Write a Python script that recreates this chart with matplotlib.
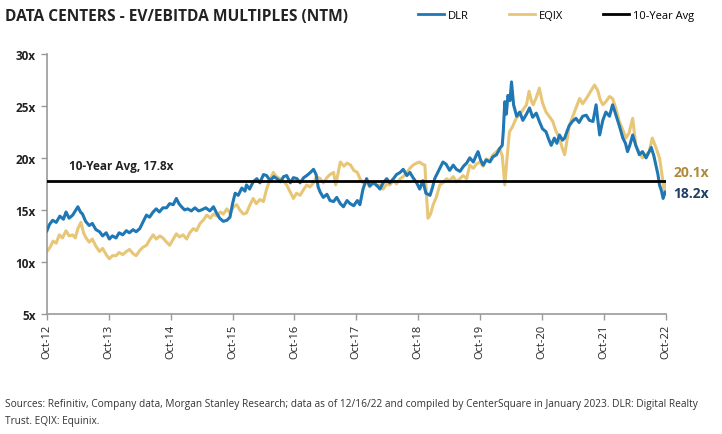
#!/usr/bin/env python3
"""Data centers EV/EBITDA multiples (NTM): DLR vs EQIX, Oct-12 to Oct-22."""

import matplotlib
matplotlib.use('Agg')
import matplotlib.pyplot as plt
from matplotlib.lines import Line2D

# palette
DLR_COLOR = "#1f77b4"
EQIX_COLOR = "#e8c677"
AVG_COLOR = "#000000"
AXIS_COLOR = "#9a9a9a"
TEXT_COLOR = "#222222"
DLR_LABEL_COLOR = "#1f3f66"
EQIX_LABEL_COLOR = "#b08a3a"

FONT = "Open Sans"

# x is months since Oct-12
tick_months = [0, 12, 24, 36, 48, 60, 72, 84, 96, 108, 120]
tick_labels = ["Oct-12", "Oct-13", "Oct-14", "Oct-15", "Oct-16", "Oct-17",
               "Oct-18", "Oct-19", "Oct-20", "Oct-21", "Oct-22"]
y_ticks = [5, 10, 15, 20, 25, 30]

ten_year_avg = 17.8
dlr_last = "18.2x"
eqix_last = "20.1x"

dlr_months = [
    0, 0.5, 1.1, 1.8, 2.5, 3.2, 3.7, 4.3, 5.0, 5.5, 6.0, 6.5, 6.9, 7.5, 8.2, 8.8,
    9.5, 10.2, 10.8, 11.5, 12.1, 12.7, 13.4, 14.0, 14.7, 15.4, 16.0, 16.7, 17.3,
    18.0, 18.6, 19.3, 19.9, 20.6, 21.2, 21.8, 22.5, 23.2, 23.8, 24.5, 25.1, 25.6,
    26.1, 26.7, 27.3, 28.0, 28.7, 29.4, 30.0, 30.8, 31.6, 32.3, 32.9, 33.5, 34.2,
    34.9, 35.5, 36.0, 36.5, 37.1, 37.8, 38.4, 38.7, 39.3, 40.0, 40.7, 41.3, 42.0,
    42.6, 43.3, 44.0, 44.6, 45.3, 45.9, 46.5, 47.2, 47.8, 48.5, 49.1, 49.8, 50.4,
    51.1, 51.7, 52.2, 52.6, 53.0, 53.6, 54.3, 54.9, 55.6, 56.2, 56.9, 57.5, 58.2,
    58.8, 59.5, 60.2, 60.7, 61.3, 62.0, 62.6, 63.3, 63.9, 64.6, 65.2, 65.9, 66.5,
    67.2, 67.8, 68.5, 69.1, 69.8, 70.4, 71.0, 71.7, 72.3, 72.9, 73.5, 74.3, 74.8,
    75.2, 75.8, 76.3, 76.8, 77.4, 78.1, 78.8, 79.4, 80.1, 80.8, 81.4, 82.0, 82.7,
    83.3, 83.6, 84.1, 84.6, 85.2, 85.9, 86.5, 87.2, 87.8, 88.3, 88.5, 88.8, 89.1,
    89.4, 89.8, 90.1, 90.5, 91.1, 91.7, 92.3, 93.0, 93.6, 94.2, 94.9, 95.5, 96.1,
    96.8, 97.3, 97.8, 98.4, 98.9, 99.4, 100.0, 100.4, 100.9, 101.3, 101.9, 102.6,
    103.2, 103.9, 104.6, 105.2, 105.9, 106.5, 106.8, 107.2, 107.8, 108.4, 109.1,
    109.7, 110.3, 111.0, 111.7, 112.2, 112.6, 113.1, 113.6, 114.2, 114.9, 115.5,
    116.2, 116.7, 117.2, 117.7, 118.1, 118.5, 118.8, 119.2, 119.5, 119.9,
]
dlr_values = [
    13.0, 13.6, 14.0, 13.8, 14.4, 14.1, 14.8, 14.2, 14.5, 14.9, 15.3, 14.8, 14.6, 13.9, 13.5, 13.7,
    13.1, 12.9, 12.5, 12.8, 12.2, 12.5, 12.3, 12.8, 12.6, 13.0, 12.8, 13.1, 12.9,
    13.2, 13.8, 14.5, 14.3, 14.8, 15.1, 14.8, 15.2, 15.2, 15.6, 15.5, 16.1, 15.6,
    15.3, 15.0, 15.1, 14.9, 15.2, 14.9, 15.0, 15.2, 14.9, 15.3, 14.7, 14.2, 13.9,
    14.0, 14.3, 15.6, 16.6, 16.4, 17.1, 16.8, 17.4, 17.0, 17.7, 18.0, 17.6, 18.4,
    18.3, 17.8, 18.2, 18.0, 17.7, 18.2, 18.3, 17.6, 18.1, 18.0, 17.6, 18.1, 18.3,
    18.6, 18.9, 18.4, 17.2, 16.7, 16.2, 16.5, 15.9, 15.8, 16.2, 15.6, 15.3, 15.9,
    15.6, 15.4, 15.9, 15.5, 17.0, 18.0, 17.3, 17.6, 17.4, 17.0, 17.6, 18.0, 17.6,
    18.0, 18.4, 18.6, 18.9, 18.3, 18.6, 18.1, 17.6, 17.0, 17.8, 16.6, 16.4, 17.2,
    18.0, 18.6, 19.1, 19.6, 19.4, 18.8, 19.3, 18.9, 18.7, 19.2, 19.5, 20.0, 19.6,
    20.3, 20.6, 19.8, 19.3, 19.8, 19.6, 20.1, 20.3, 20.9, 21.2, 22.5, 25.4, 24.2,
    26.0, 25.5, 27.3, 25.1, 24.0, 24.4, 23.6, 24.2, 24.8, 23.9, 24.3, 23.5, 22.8,
    22.5, 21.8, 21.2, 21.9, 21.4, 22.2, 21.7, 21.9, 22.6, 23.1, 23.5, 23.8,
    23.4, 24.0, 24.1, 23.6, 23.5, 25.1, 23.8, 22.2, 23.6, 24.4, 24.0,
    25.1, 24.2, 23.1, 21.9, 21.4, 20.6, 21.3, 22.2, 21.2, 20.3, 20.6,
    20.0, 20.5, 21.0, 20.2, 19.3, 18.4, 17.4, 16.8, 16.1, 16.7,
]

eqix_months = [
    0, 0.6, 1.2, 1.8, 2.4, 3.0, 3.7, 4.3, 5.0, 5.5, 6.0, 6.6, 7.1, 7.6, 8.2, 8.8,
    9.5, 10.2, 10.8, 11.5, 12.1, 12.7, 13.4, 14.0, 14.7, 15.4, 16.0, 16.7, 17.3,
    18.0, 18.6, 19.3, 19.9, 20.6, 21.2, 21.9, 22.5, 23.2, 23.8, 24.5, 25.1, 25.7,
    26.4, 27.1, 27.7, 28.4, 29.0, 29.7, 30.3, 31.0, 31.7, 32.3, 33.0, 33.6, 34.2,
    34.9, 35.5, 36.2, 36.8, 37.4, 38.1, 38.7, 39.3, 40.0, 40.6, 41.3, 42.0, 42.6,
    43.2, 43.9, 44.5, 45.2, 45.8, 46.5, 47.1, 47.8, 48.4, 49.1, 49.7, 50.4, 51.0,
    51.7, 52.3, 53.0, 53.6, 54.3, 54.9, 55.6, 56.0, 56.5, 56.9, 57.6, 58.2, 58.9,
    59.5, 60.2, 60.7, 61.3, 62.0, 62.6, 63.3, 63.9, 64.6, 65.2, 65.9, 66.5, 67.2,
    67.8, 68.5, 69.1, 69.8, 70.4, 71.0, 71.7, 72.3, 72.8, 73.3, 73.6, 73.9, 74.4,
    74.9, 75.5, 76.2, 76.8, 77.5, 78.1, 78.8, 79.4, 80.1, 80.7, 81.4, 82.0, 82.7,
    83.3, 84.0, 84.6, 85.2, 85.9, 86.5, 87.2, 87.8, 88.3, 88.8, 89.2, 89.7, 90.3,
    91.0, 91.6, 92.3, 93.0, 93.5, 94.0, 94.3, 94.9, 95.5, 96.1, 96.8, 97.4, 98.1,
    98.7, 99.4, 99.9, 100.4, 100.9, 101.3, 102.0, 102.6, 103.3, 103.9, 104.6,
    105.2, 105.7, 106.2, 106.8, 107.3, 107.8, 108.4, 109.1, 109.7, 110.3, 111.0,
    111.6, 112.3, 112.9, 113.6, 114.2, 114.8, 115.5, 116.2, 116.8, 117.4, 118.1,
    118.8, 119.4, 119.7, 120.0,
]
eqix_values = [
    11.0, 11.4, 12.0, 11.8, 12.6, 12.3, 13.0, 12.5, 12.6, 12.3, 13.2, 13.8, 12.8, 12.3, 11.9, 12.2,
    11.5, 11.0, 11.3, 10.7, 10.3, 10.6, 10.6, 10.9, 10.7, 11.0, 11.2, 10.8, 10.6,
    11.1, 11.4, 11.6, 12.1, 12.6, 12.2, 12.5, 12.3, 11.9, 11.6, 12.2, 12.7, 12.4,
    12.6, 12.2, 12.8, 13.2, 13.0, 13.7, 14.0, 14.5, 14.2, 14.6, 14.4, 14.8, 14.6,
    15.1, 14.7, 15.3, 15.5, 15.0, 14.6, 14.7, 15.4, 16.1, 15.6, 16.0, 15.8, 17.0,
    17.8, 18.6, 18.2, 18.0, 17.8, 17.4, 16.8, 16.1, 16.6, 16.4, 16.9, 17.4, 17.2,
    17.6, 18.2, 18.0, 17.6, 18.1, 18.4, 18.6, 17.4, 18.6, 19.6, 19.2, 19.5, 19.3,
    18.8, 18.6, 18.0, 17.6, 17.7, 17.2, 17.7, 17.3, 17.4, 17.0, 17.5, 17.4, 17.8,
    17.5, 18.0, 18.2, 18.6, 19.0, 19.3, 19.5, 19.6, 19.4, 19.3, 16.5, 14.2, 14.6,
    15.5, 16.2, 17.4, 17.6, 18.0, 17.8, 18.2, 17.7, 18.0, 18.3, 18.0, 19.3, 19.0,
    19.4, 19.6, 19.2, 19.9, 19.7, 20.3, 20.6, 20.9, 20.2, 17.4, 19.8, 22.5, 23.0,
    23.8, 24.1, 24.6, 25.1, 26.4, 25.4, 25.1, 25.8, 26.7, 25.3, 24.4, 24.0, 23.5,
    22.6, 21.9, 21.0, 20.3, 21.8, 23.1, 24.0, 24.8, 25.7, 25.2, 25.7,
    26.2, 26.6, 27.0, 26.5, 25.6, 25.1, 25.4, 25.9, 25.7, 24.8, 23.5,
    22.8, 21.9, 22.4, 23.8, 21.2, 20.6, 20.0, 20.3, 20.6, 21.9, 21.0,
    20.0, 18.0, 16.7, 17.5,
]

SOURCE = ("Sources: Refinitiv, Company data, Morgan Stanley Research; data as of 12/16/22 and "
          "compiled by CenterSquare in January 2023. DLR: Digital Realty\nTrust. EQIX: Equinix.")


def main():
    fig = plt.figure(figsize=(7.22, 4.35), dpi=100, facecolor="white")
    ax = fig.add_axes([0.065, 0.276, 0.857, 0.598])

    ax.plot(eqix_months, eqix_values, color=EQIX_COLOR, linewidth=2.2, zorder=2)
    ax.plot(dlr_months, dlr_values, color=DLR_COLOR, linewidth=2.2, zorder=3)
    ax.axhline(ten_year_avg, color=AVG_COLOR, linewidth=2.0, zorder=4)

    ax.set_xlim(0, 120)
    ax.set_ylim(5, 30)
    ax.set_xticks(tick_months)
    ax.set_xticklabels(tick_labels, rotation=90, fontsize=8, family=FONT, color=TEXT_COLOR)
    ax.set_yticks(y_ticks)
    ax.set_yticklabels([f"{v}x" for v in y_ticks], fontsize=8.5, family=FONT,
                       fontweight='bold', color=TEXT_COLOR)
    ax.tick_params(axis='both', colors=AXIS_COLOR, length=4, width=1, labelcolor=TEXT_COLOR)
    ax.tick_params(axis='x', pad=3)
    ax.tick_params(axis='y', pad=4)
    for side in ("top", "right"):
        ax.spines[side].set_visible(False)
    for side in ("left", "bottom"):
        ax.spines[side].set_color(AXIS_COLOR)
        ax.spines[side].set_linewidth(1.2)

    # annotations
    ax.text(4.3, 19.3, f"10-Year Avg, {ten_year_avg}x", fontsize=8.5, family=FONT,
            fontweight='bold', color=TEXT_COLOR, va='center', ha='left')
    ax.text(121.5, 18.6, eqix_last, fontsize=10, family=FONT, fontweight='bold',
            color=EQIX_LABEL_COLOR, va='center', ha='left', clip_on=False)
    ax.text(121.5, 16.6, dlr_last, fontsize=10, family=FONT, fontweight='bold',
            color=DLR_LABEL_COLOR, va='center', ha='left', clip_on=False)

    # title
    fig.text(0.007, 0.961, "DATA CENTERS - EV/EBITDA MULTIPLES (NTM)", fontsize=11.2,
             family=FONT, fontweight='bold', color=TEXT_COLOR, va='center', ha='left')

    # legend
    handles = [
        Line2D([], [], color=DLR_COLOR, linewidth=2),
        Line2D([], [], color=EQIX_COLOR, linewidth=2),
        Line2D([], [], color=AVG_COLOR, linewidth=2),
    ]
    fig.legend(handles, ["DLR", "EQIX", "10-Year Avg"], loc='center right',
               bbox_to_anchor=(0.975, 0.963), ncol=3, frameon=False,
               handlelength=2.4, handletextpad=0.3, columnspacing=3.6,
               prop={'family': FONT, 'size': 8})

    # source note
    fig.text(0.007, 0.082, SOURCE, fontsize=7.3, family=FONT, color="#333333",
             va='top', ha='left', linespacing=1.75)

    fig.savefig("out.png", dpi=100, facecolor="white")
    plt.close(fig)


if __name__ == "__main__":
    main()
